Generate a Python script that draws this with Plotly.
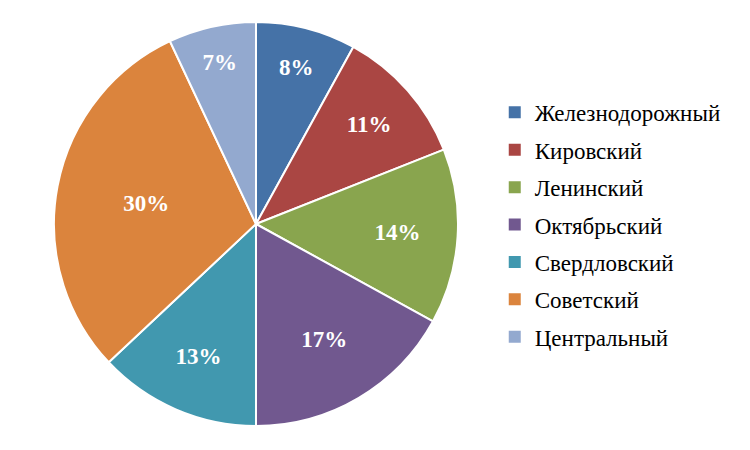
import plotly.graph_objects as go

# District shares (%)
districts = ["Железнодорожный", "Кировский", "Ленинский", "Октябрьский",
             "Свердловский", "Советский", "Центральный"]
shares = [8, 11, 14, 17, 13, 30, 7]
colors = ["#4572A7", "#AA4643", "#89A54E", "#71588F", "#4198AF", "#DB843D", "#93A9CF"]

fig = go.Figure()

# Pie
fig.add_trace(go.Pie(
    labels=districts, values=shares, sort=False, direction="clockwise", rotation=0,
    marker=dict(colors=colors, line=dict(color="white", width=2)),
    textinfo="percent", textposition="inside", insidetextorientation="horizontal",
    textfont=dict(family="Liberation Serif", size=23, color="white", weight="bold"),
    showlegend=False, hoverinfo="label+percent",
    domain=dict(x=[0.0613, 0.6], y=[0.06, 0.98]),
))

# Legend entries (one group per district so they can be spaced out)
for name, c in zip(districts, colors):
    fig.add_trace(go.Scatter(
        x=[None], y=[None], mode="markers", name=name, legendgroup=name,
        marker=dict(symbol="square", size=10, color=c),
    ))

fig.update_xaxes(visible=False)
fig.update_yaxes(visible=False)
fig.update_layout(
    width=750, height=450, margin=dict(l=0, r=0, t=0, b=0),
    paper_bgcolor="white", plot_bgcolor="white",
    font=dict(family="Liberation Serif", size=23, color="black"),
    legend=dict(x=0.649, xanchor="left", y=0.518, yanchor="middle",
                tracegroupgap=4.5, itemsizing="constant", traceorder="grouped"),
)

fig.write_html("out.html")
